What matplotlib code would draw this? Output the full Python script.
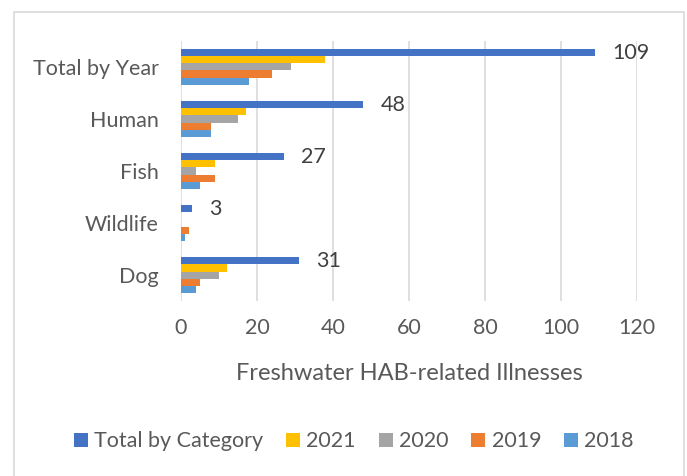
import matplotlib.pyplot as plt
import numpy as np
from matplotlib.patches import Rectangle

categories = ["Total by Year", "Human", "Fish", "Wildlife", "Dog"]
series_names = ["Total by Category", "2021", "2020", "2019", "2018"]
total_by_category = [109, 48, 27, 3, 31]
y2021 = [38, 17, 9, 0, 12]
y2020 = [29, 15, 4, 0, 10]
y2019 = [24, 8, 9, 2, 5]
y2018 = [18, 8, 5, 1, 4]
colors = ["#4472C4", "#FFC000", "#A5A5A5", "#ED7D31", "#5B9BD5"]

values = [total_by_category, y2021, y2020, y2019, y2018]
txt = "#595959"
plt.rcParams['font.family'] = ['Lato', 'DejaVu Sans']

fig = plt.figure(figsize=(6.87, 4.76), dpi=100)
ax = fig.add_axes([0.2635, 0.3676, 0.6637, 0.5463])

# outer border like the Excel chart frame
fig.patches.append(Rectangle((14 / 687, -0.1), 670 / 687, 1.1 - 12 / 476,
                             transform=fig.transFigure, fill=False,
                             edgecolor="#d9d9d9", linewidth=1.2))

n = len(series_names)
bh = 0.135
pos = np.arange(len(categories))
for i, (name, vals, c) in enumerate(zip(series_names, values, colors)):
    offs = (i - (n - 1) / 2) * bh
    ax.barh(pos + offs, vals, height=bh, color=c, label=name, zorder=3)

# data labels on the totals
for p, v in zip(pos, total_by_category):
    ax.text(v + 4.5, p - 2 * bh, str(v), va="center", ha="left",
            fontsize=15.5, color="#404040")

ax.set_xlim(0, 120)
ax.set_ylim(len(categories) - 0.5, -0.5)
ax.set_yticks(pos)
ax.set_yticklabels(categories, fontsize=15.5, color=txt)
ax.set_xticks(np.arange(0, 121, 20))
ax.tick_params(axis="x", labelsize=15.5, labelcolor=txt, length=0, pad=12)
ax.tick_params(axis="y", length=0, pad=16)
ax.grid(axis="x", color="#d9d9d9", linewidth=1.2, zorder=0)
for s in ax.spines.values():
    s.set_visible(False)

ax.set_xlabel("Freshwater HAB-related Illnesses", fontsize=17, color=txt, labelpad=18)

leg = fig.legend(loc="center", bbox_to_anchor=(0.515, 0.073), ncol=5, frameon=False,
                 fontsize=15.5, handlelength=0.65, handleheight=0.65, handletextpad=0.3,
                 columnspacing=1.05)
for t in leg.get_texts():
    t.set_color(txt)

fig.savefig("out.png", dpi=100)
